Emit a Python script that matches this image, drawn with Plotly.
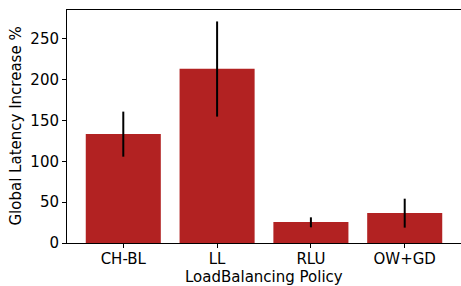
import plotly.graph_objects as go

policies = ["CH-BL", "LL", "RLU", "OW+GD"]
latency_increase = [133.4, 213.0, 25.7, 36.7]
err_plus = [27.3, 58.0, 5.7, 17.5]
err_minus = [27.8, 58.4, 6.5, 17.9]

fig = go.Figure(go.Bar(
    x=list(range(len(policies))),
    y=latency_increase,
    width=0.8,
    marker=dict(color="#B22222", line=dict(width=0)),
    error_y=dict(type="data", symmetric=False, array=err_plus, arrayminus=err_minus,
                 color="black", thickness=2, width=0),
    hoverinfo="skip",
))

font = dict(family="DejaVu Sans", size=15, color="black")
fig.update_layout(
    width=461, height=286,
    margin=dict(l=67, r=0, t=10, b=43, autoexpand=False),
    plot_bgcolor="white", paper_bgcolor="white",
    font=font, showlegend=False,
    annotations=[
        dict(text="LoadBalancing Policy", xref="paper", yref="paper", x=0.5, y=-33.5/233,
             xanchor="center", yanchor="middle", showarrow=False, font=font),
        dict(text="Global Latency Increase %", xref="paper", yref="paper", x=-52/394, y=0.5,
             xanchor="center", yanchor="middle", textangle=-90, showarrow=False, font=font),
    ],
)
fig.update_xaxes(
    range=[-0.6, 3.6], tickvals=list(range(len(policies))), ticktext=policies,
    showline=True, linecolor="black", linewidth=1, mirror=True, automargin=False,
    ticks="outside", ticklen=4, tickcolor="black", showgrid=False, zeroline=False,
    tickfont=font, ticklabelstandoff=-2,
)
fig.update_yaxes(
    range=[0, 285], tickvals=[0, 50, 100, 150, 200, 250],
    showline=True, linecolor="black", linewidth=1, mirror=True, automargin=False,
    ticks="outside", ticklen=4, tickcolor="black", showgrid=False, zeroline=False,
    tickfont=font,
)
fig.write_html(
    "out.html",
    config={"displayModeBar": False, "staticPlot": True},
    post_script="document.body.style.margin='0';document.body.style.padding='0';"
                "document.body.style.overflow='hidden';",
)
